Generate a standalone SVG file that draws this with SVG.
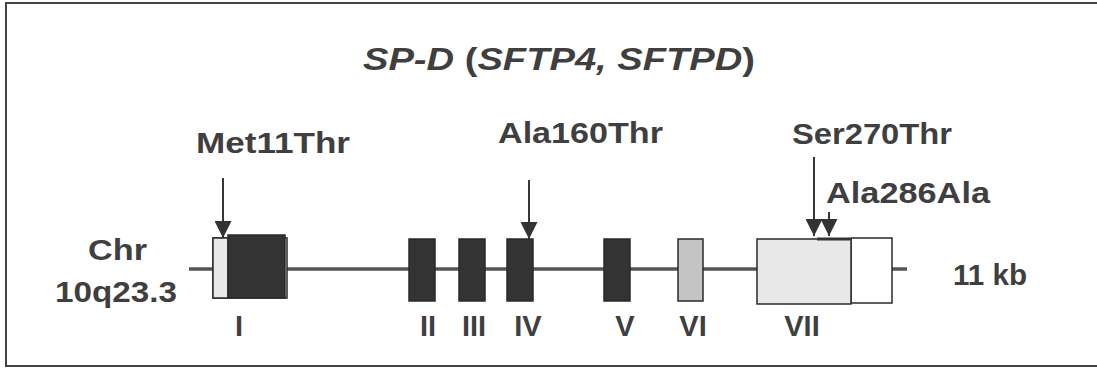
<svg xmlns="http://www.w3.org/2000/svg" width="1097" height="369" viewBox="0 0 1097 369">
<style>
text{font-family:"Liberation Sans",Arial,sans-serif;font-weight:bold;fill:#3f3f3f}
.lbl{font-size:29px}
.ex{font-size:29px;text-anchor:middle}
.dark{fill:#333;stroke:#2a2a2a;stroke-width:1.5}
.light{fill:#e8e8e8;stroke:#2a2a2a;stroke-width:1.5}
.white{fill:#fff;stroke:#2a2a2a;stroke-width:1.5}
.mid{fill:#c4c4c4;stroke:#2a2a2a;stroke-width:1.5}
.arr{stroke:#222;stroke-width:1.8;fill:none}
</style>
<defs>
<marker id="ah" viewBox="0 0 10 10" refX="10" refY="5" markerWidth="17" markerHeight="17" markerUnits="userSpaceOnUse" orient="auto">
<path d="M0,0 L10,5 L0,10 Z" fill="#333"/>
</marker>
</defs>
<rect x="6" y="3" width="1100" height="363" fill="#fff" stroke="#444" stroke-width="2"/>
<text x="363" y="70" font-size="31" textLength="392" lengthAdjust="spacingAndGlyphs"><tspan font-style="italic">SP-D</tspan> (<tspan font-style="italic">SFTP4, SFTPD</tspan>)</text>
<g id="chr-label">
<text class="lbl" x="88" y="260" font-size="28" textLength="59" lengthAdjust="spacingAndGlyphs">Chr</text>
<text class="lbl" x="55" y="302" font-size="28" textLength="122" lengthAdjust="spacingAndGlyphs">10q23.3</text>
</g>
<g id="size-label"><text class="lbl" x="953" y="285" font-size="28" textLength="74" lengthAdjust="spacingAndGlyphs">11 kb</text></g>
<g id="connectors">
<line x1="189" y1="269" x2="907" y2="269" stroke="#555" stroke-width="3.5"/>
<line class="arr" x1="223" y1="178" x2="223" y2="238" marker-end="url(#ah)"/>
<line class="arr" x1="529" y1="180" x2="529" y2="239" marker-end="url(#ah)"/>
<line class="arr" x1="814" y1="157" x2="814" y2="236" marker-end="url(#ah)"/>
<line class="arr" x1="829" y1="212" x2="829" y2="236" marker-end="url(#ah)"/>
</g>
<g id="exon-I">
<rect class="white" x="213" y="238" width="74" height="60"/>
<rect class="light" x="213" y="238" width="15" height="60"/>
<rect class="dark" x="228" y="235" width="57" height="63"/>
<text class="ex" x="239" y="336">I</text>
</g>
<g id="exon-II"><rect class="dark" x="409" y="239" width="26" height="62"/><text class="ex" x="428" y="336">II</text></g>
<g id="exon-III"><rect class="dark" x="459" y="239" width="26" height="62"/><text class="ex" x="474" y="336">III</text></g>
<g id="exon-IV"><rect class="dark" x="507" y="239" width="26" height="62"/><text class="ex" x="528" y="336">IV</text></g>
<g id="exon-V"><rect class="dark" x="604" y="239" width="26" height="62"/><text class="ex" x="625" y="336">V</text></g>
<g id="exon-VI"><rect class="mid" x="678" y="239" width="25" height="62"/><text class="ex" x="693" y="336">VI</text></g>
<g id="exon-VII">
<rect class="white" x="851" y="238" width="41" height="65"/>
<rect class="light" x="757" y="239" width="94" height="65"/>
<line x1="817" y1="239" x2="850" y2="239" stroke="#333" stroke-width="3"/>
<text class="ex" x="802" y="336">VII</text>
</g>
<g id="mut-Met11Thr"><text class="lbl" x="196" y="153" textLength="154" lengthAdjust="spacingAndGlyphs">Met11Thr</text></g>
<g id="mut-Ala160Thr"><text class="lbl" x="498" y="143" textLength="165" lengthAdjust="spacingAndGlyphs">Ala160Thr</text></g>
<g id="mut-Ser270Thr"><text class="lbl" x="792" y="144" textLength="160" lengthAdjust="spacingAndGlyphs">Ser270Thr</text></g>
<g id="mut-Ala286Ala"><text class="lbl" x="826" y="203" textLength="164" lengthAdjust="spacingAndGlyphs">Ala286Ala</text></g>
</svg>
